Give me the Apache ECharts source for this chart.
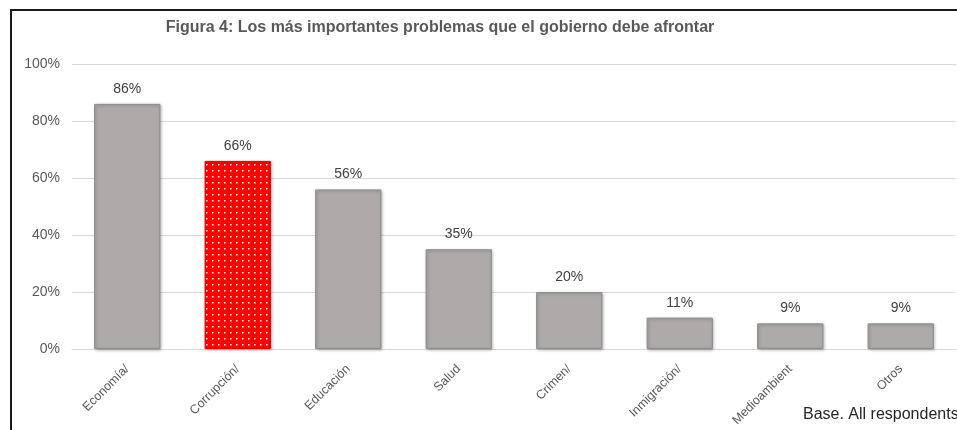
<!DOCTYPE html>
<html>
<head>
<meta charset="utf-8">
<script src="https://cdn.jsdelivr.net/npm/echarts@6/dist/echarts.min.js"></script>
<style>
html,body{margin:0;padding:0;background:#fff;}
#frame{position:absolute;left:10px;top:9px;width:947px;height:421px;border-left:2px solid #1a1a1a;border-top:2px solid #1a1a1a;}
#chart{position:absolute;left:0;top:0;width:957px;height:430px;}
</style>
</head>
<body>
<div id="frame"></div>
<div id="chart"></div>
<script>
var categories = ["Economía/", "Corrupción/", "Educación", "Salud", "Crimen/", "Inmigración/", "Medioambient", "Otros"];
var values = [86, 66, 56, 35, 20, 11, 9, 9];
var yTicks = [0, 20, 40, 60, 80, 100];
var highlightIndex = 1;

var pc = document.createElement('canvas');
pc.width = 6; pc.height = 6;
var g = pc.getContext('2d');
g.fillStyle = '#ff0000'; g.fillRect(0,0,6,6);
g.fillStyle = '#ffffff'; g.fillRect(2,2,1.5,1.5);

var FF = 'Liberation Sans, Arial, sans-serif';
var chart = echarts.init(document.getElementById('chart'), null, {renderer:'canvas'});
var data = values.map(function(v,i){
  if(i===highlightIndex){
    return {value:v, itemStyle:{color:{image:pc, repeat:'repeat'}, borderColor:'#e00000'}};
  }
  return v;
});
chart.setOption({
  animation:false,
  textStyle:{fontFamily:FF},
  title:{text:'Figura 4: Los más importantes problemas que el gobierno debe afrontar', left:435, textAlign:'center', top:15,
    textStyle:{fontSize:16, fontWeight:'bold', color:'#595959', fontFamily:FF}},
  grid:{left:72, right:1, top:64, bottom:81},
  xAxis:{type:'category', data:categories,
    axisLine:{lineStyle:{color:'#d9d9d9'}}, axisTick:{show:false},
    axisLabel:{rotate:45, fontSize:12.5, color:'#595959', margin:18, interval:0}},
  yAxis:{type:'value', min:0, max:100, interval:20,
    axisLabel:{formatter:function(v){return yTicks.indexOf(v)>=0? v+'%':'';}, fontSize:14, color:'#595959', margin:12},
    splitLine:{lineStyle:{color:'#d9d9d9'}}, axisLine:{show:false}, axisTick:{show:false}},
  series:[{type:'bar', data:data, barCategoryGap:'40%',
    itemStyle:{color:'#aeaaaa', borderColor:'#8f8c8c', borderWidth:1, shadowBlur:3, shadowColor:'rgba(0,0,0,0.3)', shadowOffsetX:1, shadowOffsetY:1},
    label:{show:true, position:'top', distance:8, formatter:'{c}%', fontSize:14, color:'#404040'}}],
  graphic:[{type:'text', left:803, top:407, style:{text:'Base. All respondents', fill:'#262626', font:'16px Liberation Sans, Arial, sans-serif'}}]
});
</script>
</body>
</html>
